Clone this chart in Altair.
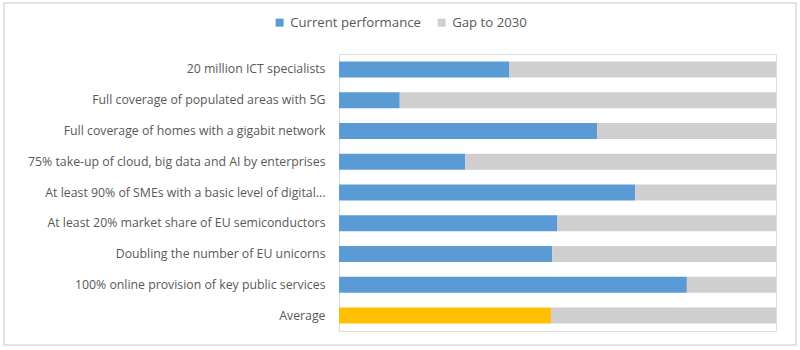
import altair as alt
import pandas as pd

categories = [
    "20 million ICT specialists",
    "Full coverage of populated areas with 5G",
    "Full coverage of homes with a gigabit network",
    "75% take-up of cloud, big data and AI by enterprises",
    "At least 90% of SMEs with a basic level of digital...",
    "At least 20% market share of EU semiconductors",
    "Doubling the number of EU unicorns",
    "100% online provision of key public services",
    "Average",
]
current = [39.0, 13.9, 59.1, 28.9, 67.8, 50.0, 48.8, 79.6, 48.5]
target = [100] * len(categories)

rows = []
for c, v, t in zip(categories, current, target):
    rows.append({"cat": c, "series": "Average" if c == "Average" else "Current performance", "value": v, "ord": 0})
    rows.append({"cat": c, "series": "Gap to 2030", "value": t - v, "ord": 1})
df = pd.DataFrame(rows)

FONT = "Open Sans"

bars = alt.Chart(df).mark_bar().encode(
    y=alt.Y("cat:N", sort=categories, title=None,
            scale=alt.Scale(paddingInner=0.48, paddingOuter=0.24),
            axis=alt.Axis(ticks=False, domainColor="#d9d9d9", labelColor="#595959",
                          labelFontSize=12.3, labelFont=FONT, labelPadding=14,
                          labelLimit=335)),
    x=alt.X("value:Q", stack="zero", title=None,
            scale=alt.Scale(domain=[0, 100], nice=False),
            axis=None),
    color=alt.Color("series:N",
                    scale=alt.Scale(domain=["Current performance", "Gap to 2030", "Average"],
                                    range=["#5b9bd5", "#d0cece", "#ffc000"]),
                    legend=alt.Legend(values=["Current performance", "Gap to 2030"],
                                      title=None, orient="none", direction="horizontal",
                                      legendX=-66, legendY=-38, symbolType="square",
                                      symbolSize=64, symbolStrokeWidth=0,
                                      labelFontSize=13.2, labelFont=FONT, labelColor="#595959",
                                      columnPadding=14)),
    order=alt.Order("ord:Q"),
)

frame = alt.Chart(pd.DataFrame({"a": [0]})).mark_rect(
    fill=None, stroke="#d9d9d9", strokeWidth=1.5
).encode(x=alt.value(-335), x2=alt.value(457), y=alt.value(-51), y2=alt.value(291))

chart = alt.layer(bars, frame).properties(
    width=437, height=277,
    padding={"left": 339, "top": 54, "right": 24, "bottom": 19},
    autosize=alt.AutoSizeParams(type="none"),
).configure_view(stroke=None).configure(background="white")

chart.save("out.html", embed_options={"renderer": "svg", "actions": False})
